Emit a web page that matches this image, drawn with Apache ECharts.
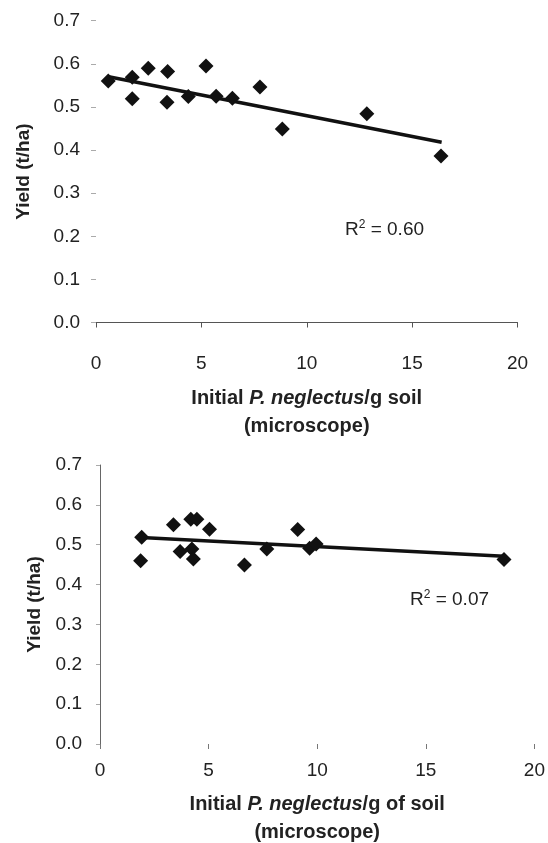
<!DOCTYPE html>
<html>
<head>
<meta charset="utf-8">
<script src="https://cdn.jsdelivr.net/npm/echarts@6/dist/echarts.min.js"></script>
<style>
html,body{margin:0;padding:0;background:#fff;}
#c{width:548px;height:843px;}
</style>
</head>
<body>
<div id="c"></div>
<script>
// ---- Data ----
var topX = [0.58, 1.72, 1.72, 2.48, 3.40, 3.37, 4.38, 5.22, 5.70, 6.47, 7.78, 8.84, 12.85, 16.37];
var topY = [0.560, 0.569, 0.519, 0.590, 0.582, 0.511, 0.524, 0.595, 0.525, 0.520, 0.546, 0.449, 0.484, 0.386];
var topTrendX = [0.6, 16.4];
var topTrendY = [0.570, 0.418];
var topR2 = '0.60';

var botX = [1.92, 1.87, 3.38, 3.69, 4.18, 4.46, 4.23, 4.30, 5.04, 6.65, 7.68, 9.10, 9.65, 9.95, 18.6];
var botY = [0.519, 0.460, 0.550, 0.483, 0.564, 0.564, 0.489, 0.464, 0.539, 0.449, 0.489, 0.538, 0.491, 0.502, 0.463];
var botTrendX = [1.9, 18.6];
var botTrendY = [0.518, 0.471];
var botR2 = '0.07';

var xTicks = [0, 5, 10, 15, 20];
var yTicks = [0.0, 0.1, 0.2, 0.3, 0.4, 0.5, 0.6, 0.7];

function pairs(xs, ys) { return xs.map(function (x, i) { return [x, ys[i]]; }); }

var FONT = '"Liberation Sans", Arial, sans-serif';
var TXT = '#222';

var nameRich = {
  b: { fontFamily: FONT, fontWeight: 'bold', fontSize: 20, color: TXT, lineHeight: 28 },
  i: { fontFamily: FONT, fontWeight: 'bold', fontStyle: 'italic', fontSize: 20, color: TXT, lineHeight: 28 }
};

var chart = echarts.init(document.getElementById('c'), null, { renderer: 'canvas' });

var option = {
  backgroundColor: '#fff',
  animation: false,
  grid: [
    { left: 96, top: 20.7, width: 421.5, height: 301.8 },
    { left: 100, top: 465, width: 436, height: 290 }
  ],
  xAxis: [
    {
      gridIndex: 0, type: 'value', min: xTicks[0], max: xTicks[xTicks.length - 1], interval: 5,
      axisLine: { show: true, lineStyle: { color: '#555', width: 1 } },
      axisTick: { show: true, length: 5, lineStyle: { color: '#555' } },
      splitLine: { show: false },
      axisLabel: { margin: 32, fontFamily: FONT, fontSize: 19, color: TXT },
      name: '{b|Initial }{i|P. neglectus}{b|/g soil}\n{b|(microscope)}',
      nameLocation: 'middle', nameGap: 62,
      nameTextStyle: { rich: nameRich, align: 'center' }
    },
    {
      gridIndex: 1, type: 'value', min: xTicks[0], max: xTicks[xTicks.length - 1], interval: 5,
      axisLine: { show: false },
      axisTick: { show: true, length: 5, lineStyle: { color: '#777' } },
      splitLine: { show: false },
      axisLabel: { margin: 17, fontFamily: FONT, fontSize: 19, color: TXT },
      name: '{b|Initial }{i|P. neglectus}{b|/g of soil}\n{b|(microscope)}',
      nameLocation: 'middle', nameGap: 46,
      nameTextStyle: { rich: nameRich, align: 'center' }
    }
  ],
  yAxis: [
    {
      gridIndex: 0, type: 'value', min: yTicks[0], max: yTicks[yTicks.length - 1], interval: 0.1,
      axisLine: { show: false },
      axisTick: { show: true, length: 5, lineStyle: { color: '#aaa' } },
      splitLine: { show: false },
      axisLabel: { margin: 16, fontFamily: FONT, fontSize: 19, color: TXT,
        formatter: function (v) { return v.toFixed(1); } },
      name: 'Yield (t/ha)', nameLocation: 'middle', nameGap: 63, nameRotate: 90,
      nameTextStyle: { fontFamily: FONT, fontWeight: 'bold', fontSize: 19, color: TXT }
    },
    {
      gridIndex: 1, type: 'value', min: yTicks[0], max: yTicks[yTicks.length - 1], interval: 0.1,
      axisLine: { show: true, lineStyle: { color: '#666', width: 1 } },
      axisTick: { show: true, length: 4, lineStyle: { color: '#aaa' } },
      splitLine: { show: false },
      axisLabel: { margin: 18, fontFamily: FONT, fontSize: 19, color: TXT,
        formatter: function (v) { return v.toFixed(1); } },
      name: 'Yield (t/ha)', nameLocation: 'middle', nameGap: 55, nameRotate: 90,
      nameTextStyle: { fontFamily: FONT, fontWeight: 'bold', fontSize: 19, color: TXT }
    }
  ],
  series: [
    {
      type: 'line', xAxisIndex: 0, yAxisIndex: 0, data: pairs(topTrendX, topTrendY),
      symbol: 'none', lineStyle: { color: '#111', width: 3.5 }, z: 2
    },
    {
      type: 'scatter', xAxisIndex: 0, yAxisIndex: 0, data: pairs(topX, topY),
      symbol: 'diamond', symbolSize: 15, itemStyle: { color: '#111', opacity: 1 }, z: 3
    },
    {
      type: 'line', xAxisIndex: 1, yAxisIndex: 1, data: pairs(botTrendX, botTrendY),
      symbol: 'none', lineStyle: { color: '#111', width: 3.5 }, z: 2
    },
    {
      type: 'scatter', xAxisIndex: 1, yAxisIndex: 1, data: pairs(botX, botY),
      symbol: 'diamond', symbolSize: 15, itemStyle: { color: '#111', opacity: 1 }, z: 3
    }
  ],
  graphic: [
    {
      type: 'text', left: 345, top: 219,
      style: {
        text: '{r|R}{s|2}{r| = ' + topR2 + '}',
        rich: {
          r: { fontFamily: FONT, fontSize: 19, fill: TXT, verticalAlign: 'bottom' },
          s: { fontFamily: FONT, fontSize: 12, fill: TXT, verticalAlign: 'top', padding: [0, 0, 8, 0] }
        }
      }
    },
    {
      type: 'text', left: 410, top: 589,
      style: {
        text: '{r|R}{s|2}{r| = ' + botR2 + '}',
        rich: {
          r: { fontFamily: FONT, fontSize: 19, fill: TXT, verticalAlign: 'bottom' },
          s: { fontFamily: FONT, fontSize: 12, fill: TXT, verticalAlign: 'top', padding: [0, 0, 8, 0] }
        }
      }
    }
  ]
};

chart.setOption(option);
</script>
</body>
</html>
